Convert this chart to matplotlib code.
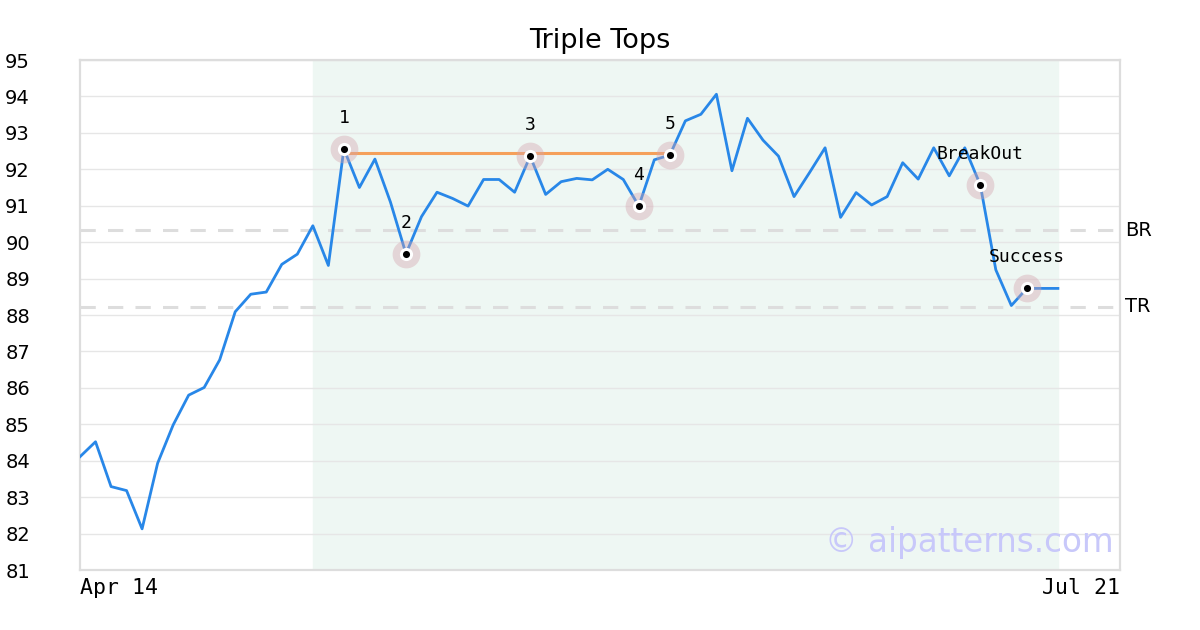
import matplotlib
matplotlib.use("Agg")
import matplotlib.pyplot as plt

# closing prices, one per bar
prices = [84.11, 84.52, 83.29, 83.18, 82.13, 83.93, 84.98, 85.80, 86.01, 86.77,
          88.09, 88.57, 88.63, 89.39, 89.67, 90.45, 89.36, 92.56, 91.50, 92.28,
          91.10, 89.68, 90.70, 91.37, 91.20, 90.99, 91.72, 91.72, 91.37, 92.36,
          91.31, 91.66, 91.75, 91.71, 92.00, 91.72, 90.99, 92.26, 92.39, 93.33,
          93.51, 94.06, 91.96, 93.40, 92.80, 92.36, 91.25, 91.91, 92.59, 90.68,
          91.36, 91.02, 91.25, 92.18, 91.73, 92.59, 91.82, 92.59, 91.57, 89.24,
          88.26, 88.73, 88.73, 88.73]

pivot_idx = [17, 21, 29, 36, 38, 58, 61]
pivot_labels = ["1", "2", "3", "4", "5", "BreakOut", "Success"]
top_line = (17, 38, 92.44)
br_level = 90.33
tr_level = 88.22
shade_span = (15, 63)
date_labels = ["Apr 14", "Jul 21"]

fig = plt.figure(figsize=(12, 6.3), dpi=100)
ax = fig.add_axes([80 / 1200, 60 / 630, 1040 / 1200, 510 / 630])

x = list(range(len(prices)))
xmax = 67.0

ax.axvspan(shade_span[0], shade_span[1], color="#eef7f3", zorder=0)
ax.set_yticks(range(81, 96))
ax.grid(axis="y", color="#e6e6e6", linewidth=1, zorder=1)
ax.grid(axis="x", visible=False)

ax.axhline(br_level, color="#dddddd", linewidth=2.2, dashes=(5, 4), zorder=2)
ax.axhline(tr_level, color="#dddddd", linewidth=2.2, dashes=(5, 4), zorder=2)

ax.plot(x, prices, color="#2887e8", linewidth=2.0, zorder=3)
ax.plot([top_line[0], top_line[1]], [top_line[2], top_line[2]],
        color="#f5a05a", linewidth=2.2, zorder=4)

px = [x[i] for i in pivot_idx]
py = [prices[i] for i in pivot_idx]
ax.scatter(px, py, s=400, color=(0.83, 0.64, 0.68), alpha=0.4, linewidths=0, zorder=5)
ax.scatter(px, py, s=90, color="white", linewidths=0, zorder=6)
ax.scatter(px, py, s=26, color="black", linewidths=0, zorder=7)

for xi, yi, lab in zip(px, py, pivot_labels):
    ax.annotate(lab, (xi, yi), xytext=(0, 22.5), textcoords="offset points",
                ha="center", va="center", fontsize=13, family="DejaVu Sans Mono",
                zorder=8)

ax.text(1.005, br_level, "BR", transform=ax.get_yaxis_transform(),
        ha="left", va="center", fontsize=14)
ax.text(1.005, tr_level, "TR", transform=ax.get_yaxis_transform(),
        ha="left", va="center", fontsize=14)

ax.text(0.855, 0.054, "\u00a9 aipatterns.com", transform=ax.transAxes,
        ha="center", va="center", fontsize=23.5, color="#c8c8fa", zorder=9)

ax.set_xlim(0, xmax)
ax.set_ylim(81, 95)
ax.set_xticks([0, xmax])
ax.set_xticklabels(date_labels, family="DejaVu Sans Mono", fontsize=15.5)
xt = ax.get_xticklabels()
xt[0].set_ha("left")
xt[1].set_ha("right")
ax.tick_params(axis="x", length=0, pad=6)
ax.tick_params(axis="y", length=0, pad=36, labelsize=14)

for s in ax.spines.values():
    s.set_color("#dddddd")
    s.set_linewidth(1.6)

ax.set_title("Triple Tops", fontsize=19.5, pad=9)

fig.savefig("out.png", dpi=100, facecolor="white")
